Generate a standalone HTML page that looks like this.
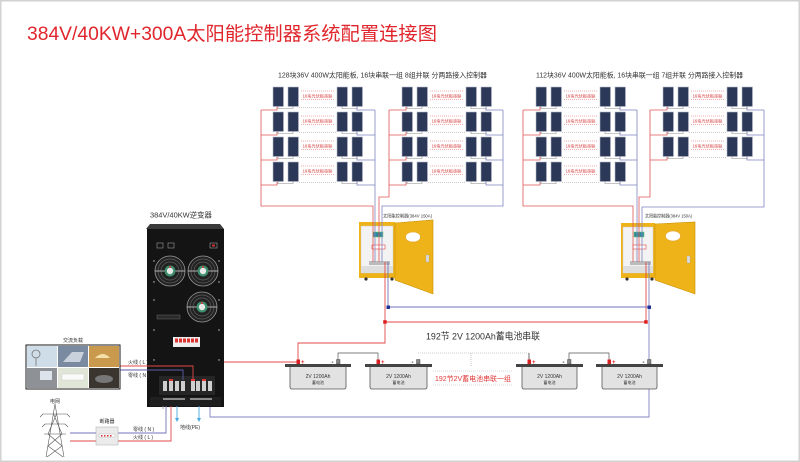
<!DOCTYPE html>
<html><head><meta charset="utf-8">
<style>
html,body{margin:0;padding:0;background:#fff;}
svg{display:block;font-family:"Liberation Sans","Noto Sans CJK SC",sans-serif;}
</style></head><body>
<svg width="800" height="462" viewBox="0 0 800 462" xmlns="http://www.w3.org/2000/svg">
<defs>
<g id="row">
  <rect x="0" y="0" width="10.5" height="19.5" fill="#2b3858" stroke="#b4b8c6" stroke-width="0.6"/>
  <rect x="15" y="0" width="10.5" height="19.5" fill="#2b3858" stroke="#b4b8c6" stroke-width="0.6"/>
  <rect x="64" y="0" width="10.5" height="19.5" fill="#2b3858" stroke="#b4b8c6" stroke-width="0.6"/>
  <rect x="79" y="0" width="10.5" height="19.5" fill="#2b3858" stroke="#b4b8c6" stroke-width="0.6"/>
  <path d="M5,19.5v2h15v-2 M69,19.5v2h15v-2" fill="none" stroke="#8a8a8a" stroke-width="0.6"/>
  <path d="M26,20.5H63.5" stroke="#999" stroke-width="0.5" stroke-dasharray="1,1"/>
  <path d="M28,4H61M28,12.5H61" stroke="#e35a5a" stroke-width="0.5" stroke-dasharray="1,1"/>
</g>
<g id="fan">
  <circle r="15" fill="#222" stroke="#9a9a9a" stroke-width="0.8"/>
  <circle r="12" fill="none" stroke="#5e5e5e" stroke-width="0.7"/>
  <circle r="9" fill="none" stroke="#5e5e5e" stroke-width="0.7"/>
  <path d="M-15,0H15" stroke="#ddd" stroke-width="0.8"/>
  <circle r="5.5" fill="#3d8f6e"/>
  <circle r="3.2" fill="#e8e8e8"/>
  <circle cy="-4" r="1" fill="#d33"/>
</g>
</defs>

<rect x="0.75" y="0.75" width="798.5" height="460.5" fill="#fff" stroke="#d2d2d2" stroke-width="1.5"/>

<!-- Title -->
<text x="27" y="40" font-size="19" fill="#e0262c" textLength="410" lengthAdjust="spacingAndGlyphs">384V/40KW+300A太阳能控制器系统配置连接图</text>

<!-- Group titles -->
<text x="278" y="77.5" font-size="7" fill="#333" textLength="209" lengthAdjust="spacingAndGlyphs">128块36V 400W太阳能板, 16块串联一组 8组并联 分两路接入控制器</text>
<text x="536" y="77.5" font-size="7" fill="#333" textLength="207" lengthAdjust="spacingAndGlyphs">112块36V 400W太阳能板, 16块串联一组 7组并联 分两路接入控制器</text>

<!-- Panel rows -->
<use href="#row" x="273" y="87"/><use href="#row" x="273" y="112"/><use href="#row" x="273" y="137"/><use href="#row" x="273" y="162"/>
<use href="#row" x="402" y="87"/><use href="#row" x="402" y="112"/><use href="#row" x="402" y="137"/><use href="#row" x="402" y="162"/>
<use href="#row" x="536" y="87"/><use href="#row" x="536" y="112"/><use href="#row" x="536" y="137"/><use href="#row" x="536" y="162"/>
<use href="#row" x="663" y="87"/><use href="#row" x="663" y="112"/><use href="#row" x="663" y="137"/>

<g font-size="4.2" fill="#d63a3a" text-anchor="middle">
<text x="317.5" y="97.3">16块光伏板串联</text><text x="317.5" y="122.3">16块光伏板串联</text><text x="317.5" y="147.3">16块光伏板串联</text><text x="317.5" y="172.3">16块光伏板串联</text>
<text x="446.5" y="97.3">16块光伏板串联</text><text x="446.5" y="122.3">16块光伏板串联</text><text x="446.5" y="147.3">16块光伏板串联</text><text x="446.5" y="172.3">16块光伏板串联</text>
<text x="580.5" y="97.3">16块光伏板串联</text><text x="580.5" y="122.3">16块光伏板串联</text><text x="580.5" y="147.3">16块光伏板串联</text><text x="580.5" y="172.3">16块光伏板串联</text>
<text x="707.5" y="97.3">16块光伏板串联</text><text x="707.5" y="122.3">16块光伏板串联</text><text x="707.5" y="147.3">16块光伏板串联</text>
</g>

<!-- Controllers -->
<g>
  <rect x="359" y="222" width="36" height="56" fill="#efb31a"/>
  <rect x="361" y="226" width="32" height="47" fill="#f3f3f3" stroke="#c8c8c8" stroke-width="0.4"/>
  <rect x="373" y="232" width="10" height="5" fill="#2a8a9a" stroke="#6c6" stroke-width="0.5"/>
  <rect x="372" y="245" width="13" height="4" fill="#fff" stroke="#d44" stroke-width="0.6"/>
  <rect x="369" y="261" width="21" height="4" fill="#bbb"/>
  <rect x="361" y="266" width="32" height="7" fill="#dedede"/>
  <circle cx="366" cy="279" r="1.6" fill="#333"/><circle cx="392" cy="279" r="1.6" fill="#333"/>
  <polygon points="395,223 433,220 433,294 395,280" fill="#efb31a" stroke="#c68e00" stroke-width="0.6"/>
  <ellipse cx="413" cy="237" rx="7.5" ry="5" fill="#fff" stroke="#d8a030" stroke-width="0.5"/>
  <rect x="426" y="255" width="3" height="7" fill="#ddd" stroke="#999" stroke-width="0.3"/>
</g>
<g>
  <rect x="621" y="223" width="34" height="55" fill="#efb31a"/>
  <rect x="623" y="227" width="30" height="46" fill="#f3f3f3" stroke="#c8c8c8" stroke-width="0.4"/>
  <rect x="634" y="232" width="10" height="5" fill="#2a8a9a" stroke="#6c6" stroke-width="0.5"/>
  <rect x="633" y="245" width="13" height="4" fill="#fff" stroke="#d44" stroke-width="0.6"/>
  <rect x="630" y="261" width="21" height="4" fill="#bbb"/>
  <rect x="623" y="266" width="30" height="7" fill="#dedede"/>
  <circle cx="627" cy="279" r="1.6" fill="#333"/><circle cx="652" cy="279" r="1.6" fill="#333"/>
  <polygon points="655,224 695,222 695,294 655,280" fill="#efb31a" stroke="#c68e00" stroke-width="0.6"/>
  <ellipse cx="673" cy="236" rx="7.5" ry="5" fill="#fff" stroke="#d8a030" stroke-width="0.5"/>
  <rect x="687" y="256" width="3" height="7" fill="#ddd" stroke="#999" stroke-width="0.3"/>
</g>
<text x="383" y="217.5" font-size="4.5" fill="#333" textLength="49" lengthAdjust="spacingAndGlyphs">太阳能控制器(384V 150A)</text>
<text x="645" y="217.5" font-size="4.5" fill="#333" textLength="47" lengthAdjust="spacingAndGlyphs">太阳能控制器(384V 150A)</text>

<!-- Panel wiring -->
<g fill="none" stroke-width="0.8">
  <g stroke="#e05656">
    <path d="M261,110H277V107M261,135H277V132M261,160H277V157M261,185H277V182"/>
    <path d="M389,110H406V107M389,135H406V132M389,160H406V157M389,185H406V182"/>
    <path d="M523,110H540V107M523,135H540V132M523,160H540V157M523,185H540V182"/>
    <path d="M650,110H667V107M650,135H667V132M650,160H667V157"/>
    <path d="M261,110V206H373V262"/>
    <path d="M389,110V197H379V262"/>
    <path d="M523,110V206H633V262"/>
    <path d="M650,110V197H639V262"/>
  </g>
  <g stroke="#7f84c0">
    <path d="M357,107V110H375M357,132V135H375M357,157V160H375M357,182V185H375"/>
    <path d="M486,107V110H503M486,132V135H503M486,157V160H503M486,182V185H503"/>
    <path d="M620,107V110H637M620,132V135H637M620,157V160H637M620,182V185H637"/>
    <path d="M747,107V110H764M747,132V135H764M747,157V160H764"/>
    <path d="M375,110V262"/>
    <path d="M503,110V206H382V262"/>
    <path d="M637,110V262"/>
    <path d="M764,110V207H642V262"/>
  </g>
</g>

<!-- DC bus wiring -->
<g fill="none" stroke-width="0.9">
  <path d="M385,262V343H298V360" stroke="#e04848"/>
  <path d="M385,322H646V262" stroke="#e04848"/>
  <path d="M388,262V307H649" stroke="#6f74b8"/>
  <path d="M649,262V417H210V406" stroke="#7f84c0"/>
  <path d="M204,380V362H297" stroke="#e04848"/>
</g>
<rect x="386.5" y="305.5" width="3.5" height="3.5" fill="#22309a"/>
<rect x="647.5" y="305.5" width="3.5" height="3.5" fill="#22309a"/>
<rect x="383.2" y="320.2" width="3.5" height="3.5" fill="#d82020"/>
<rect x="644.2" y="320.2" width="3.5" height="3.5" fill="#d82020"/>

<!-- Battery title -->
<text x="426" y="339.5" font-size="9.5" fill="#333" textLength="114" lengthAdjust="spacingAndGlyphs">192节 2V 1200Ah蓄电池串联</text>

<!-- Batteries -->
<g>
  <path d="M338,360V353H378V360" fill="none" stroke="#555" stroke-width="0.7"/>
  <path d="M569,360V353H609V360" fill="none" stroke="#555" stroke-width="0.7"/>
  <path d="M529,360V353" fill="none" stroke="#444" stroke-width="0.8"/>
  <path d="M418,353H529M471,353V367" fill="none" stroke="#999" stroke-width="0.6" stroke-dasharray="1,1"/>
  <path d="M433,371H513M433,385H513" fill="none" stroke="#aaa" stroke-width="0.6" stroke-dasharray="1,1"/>
  <text x="473" y="381" font-size="7" fill="#e03a3a" text-anchor="middle" textLength="76" lengthAdjust="spacingAndGlyphs">192节2V蓄电池串联一组</text>

  <rect x="285" y="364" width="66" height="3" fill="#444"/>
  <path d="M290,367V387Q290,389 292,389H344Q346,389 346,387V367" fill="#e2e2e2" stroke="#555" stroke-width="0.8"/>
  <rect x="365" y="364" width="67" height="3" fill="#444"/>
  <path d="M370,367V387Q370,389 372,389H425Q427,389 427,387V367" fill="#e2e2e2" stroke="#555" stroke-width="0.8"/>
  <rect x="516" y="364" width="67" height="3" fill="#444"/>
  <path d="M522,367V387Q522,389 524,389H575Q577,389 577,387V367" fill="#e2e2e2" stroke="#555" stroke-width="0.8"/>
  <rect x="596" y="364" width="67" height="3" fill="#444"/>
  <path d="M602,367V387Q602,389 604,389H655Q657,389 657,387V367" fill="#e2e2e2" stroke="#555" stroke-width="0.8"/>

  <g fill="#d82020">
    <rect x="296.5" y="359.5" width="3.5" height="4.5"/><rect x="376.5" y="359.5" width="3.5" height="4.5"/>
    <rect x="527.5" y="359.5" width="3.5" height="4.5"/><rect x="607.5" y="359.5" width="3.5" height="4.5"/>
  </g>
  <g fill="#888" stroke="#333" stroke-width="0.4">
    <rect x="336.5" y="359.5" width="3.5" height="4.5"/><rect x="416.5" y="359.5" width="3.5" height="4.5"/>
    <rect x="567.5" y="359.5" width="3.5" height="4.5"/><rect x="647.5" y="359.5" width="3.5" height="4.5"/>
  </g>
  <g font-size="6" font-weight="bold" fill="#e02020">
    <text x="301" y="364">+</text><text x="381" y="364">+</text><text x="532" y="364">+</text><text x="612" y="364">+</text>
  </g>
  <g font-size="6" font-weight="bold" fill="#222">
    <text x="331.5" y="364">-</text><text x="411.5" y="364">-</text><text x="562.5" y="364">-</text><text x="642.5" y="364">-</text>
  </g>
  <g font-size="5" fill="#333" text-anchor="middle">
    <text x="318" y="378">2V 1200Ah</text><text x="398.5" y="378">2V 1200Ah</text><text x="549.5" y="378">2V 1200Ah</text><text x="629.5" y="378">2V 1200Ah</text>
  </g>
  <g font-size="4" fill="#333" text-anchor="middle">
    <text x="318" y="384">蓄电池</text><text x="398.5" y="384">蓄电池</text><text x="549.5" y="384">蓄电池</text><text x="629.5" y="384">蓄电池</text>
  </g>
</g>

<!-- Inverter -->
<text x="150" y="217.5" font-size="7.4" fill="#333" textLength="62" lengthAdjust="spacingAndGlyphs">384V/40KW逆变器</text>
<g>
  <path d="M150,224H220L224,229H146Z" fill="#3a3a3a"/>
  <rect x="147" y="229" width="77" height="178" fill="#141414"/>
  <rect x="157" y="243" width="6" height="5" fill="none" stroke="#999" stroke-width="0.6"/>
  <rect x="168" y="243" width="6" height="5" fill="none" stroke="#999" stroke-width="0.6"/>
  <rect x="210" y="243" width="7" height="5" fill="none" stroke="#999" stroke-width="0.6"/>
  <rect x="212" y="244.5" width="3" height="2" fill="#c33"/>
  <use href="#fan" x="170" y="271"/>
  <use href="#fan" x="203" y="271"/>
  <use href="#fan" x="202" y="307"/>
  <g fill="#ccc">
    <circle cx="154" cy="261" r="0.7"/><circle cx="154" cy="282" r="0.7"/><circle cx="219" cy="261" r="0.7"/><circle cx="219" cy="282" r="0.7"/>
    <circle cx="154" cy="300" r="0.7"/><circle cx="219" cy="300" r="0.7"/><circle cx="154" cy="330" r="0.7"/><circle cx="219" cy="330" r="0.7"/>
    <circle cx="154" cy="360" r="0.7"/><circle cx="219" cy="360" r="0.7"/>
  </g>
  <rect x="157" y="315" width="23" height="4" fill="#2a2a2a" stroke="#777" stroke-width="0.4"/>
  <rect x="173" y="337" width="27" height="10" fill="#eee"/>
  <g fill="#d33">
    <rect x="175" y="338.5" width="3" height="4"/><rect x="179" y="338.5" width="3" height="4"/><rect x="183" y="338.5" width="3" height="4"/>
    <rect x="187" y="338.5" width="3" height="4"/><rect x="191" y="338.5" width="3" height="4"/><rect x="195" y="338.5" width="3" height="4"/>
  </g>
  <rect x="159" y="376" width="56" height="19" fill="#262626"/>
  <g fill="#cfcfcf">
    <rect x="163" y="381" width="4" height="10"/><rect x="169" y="381" width="4" height="10"/><rect x="175" y="381" width="4" height="10"/><rect x="181" y="381" width="4" height="10"/>
    <rect x="191" y="381" width="4" height="10"/><rect x="196" y="381" width="4" height="10"/><rect x="202" y="381" width="4" height="10"/><rect x="208" y="381" width="4" height="10"/>
  </g>
  <g fill="#d33"><rect x="169" y="379" width="4" height="2"/><rect x="202" y="379" width="4" height="2"/><rect x="191" y="379" width="4" height="2"/></g>
  <rect x="150" y="397" width="71" height="9" fill="#1f1f1f"/>
  <rect x="163" y="398" width="22" height="2" fill="#8a8a8a"/>
  <rect x="190" y="398" width="22" height="2" fill="#8a8a8a"/>
</g>

<!-- AC wiring -->
<g fill="none" stroke-width="0.9">
  <path d="M120,366H193V380" stroke="#e04848"/>
  <path d="M120,370H183V380" stroke="#5a5ea8"/>
  <path d="M70,433H96M118,433H166V406" stroke="#6f74b8"/>
  <path d="M70,441H96M118,441H171V406" stroke="#e04848"/>
  <path d="M177,406V419M199,406V419" stroke="#4aa8e0"/>
  <path d="M163,406V409" stroke="#999"/>
</g>
<path d="M175,418H179L177,422Z M197,418H201L199,422Z" fill="#4aa8e0"/>
<g font-size="5" fill="#333">
  <text x="128" y="364">火线 ( L )</text>
  <text x="128" y="377">零线 ( N )</text>
  <text x="133" y="431">零线 ( N )</text>
  <text x="133" y="439">火线 ( L )</text>
  <text x="180" y="429">地线(PE)</text>
  <text x="73" y="342" text-anchor="middle">交流负载</text>
  <text x="55" y="403" text-anchor="middle">电网</text>
  <text x="107" y="423" text-anchor="middle">断路器</text>
</g>

<!-- Loads grid -->
<rect x="26" y="345" width="94" height="44" fill="#fff" stroke="#1a1a1a" stroke-width="1"/>
<rect x="27" y="346" width="30" height="21" fill="#cfdde8"/>
<rect x="58" y="346" width="30" height="21" fill="#7a8aa0"/>
<rect x="89" y="346" width="30" height="21" fill="#c99a4e"/>
<rect x="27" y="368" width="30" height="20" fill="#8e9196"/>
<rect x="58" y="368" width="30" height="20" fill="#dfe6d8"/>
<rect x="89" y="368" width="30" height="20" fill="#3b3530"/>
<circle cx="36" cy="354" r="4" fill="none" stroke="#777" stroke-width="0.8"/>
<path d="M36,358V366" stroke="#777" stroke-width="0.8"/>
<path d="M63,362L72,352H84L80,362Z" fill="#c9d2dc"/>
<path d="M95,358Q103,350 110,358Z" fill="#f4e1a8"/>
<rect x="40" y="371" width="12" height="9" fill="#dde3ea"/>
<rect x="62" y="374" width="22" height="6" fill="#fafafa" stroke="#bbb" stroke-width="0.3"/>
<ellipse cx="104" cy="379" rx="9" ry="4" fill="#777"/>

<!-- Tower -->
<g fill="none" stroke="#555" stroke-width="0.6">
  <path d="M55,404L46,457M55,404L64,457"/>
  <path d="M43,414H67M45,424H65M44,434H66"/>
  <path d="M53.5,414L62,434L48,446L63,457M56.5,414L48,434L62,446L47,457"/>
  <path d="M43,414l-3,3M67,414l3,3M45,424l-3,3M65,424l3,3"/>
</g>

<!-- Breaker box -->
<rect x="96" y="427" width="22" height="18" fill="#ebebeb" stroke="#aaa" stroke-width="0.5"/>
<rect x="99" y="434" width="16" height="3" fill="#fff" stroke="#999" stroke-width="0.3"/>
<g fill="#d33"><rect x="101" y="435" width="1.5" height="1.5"/><rect x="104" y="435" width="1.5" height="1.5"/><rect x="107" y="435" width="1.5" height="1.5"/><rect x="110" y="435" width="1.5" height="1.5"/></g>
</svg>
</body></html>
